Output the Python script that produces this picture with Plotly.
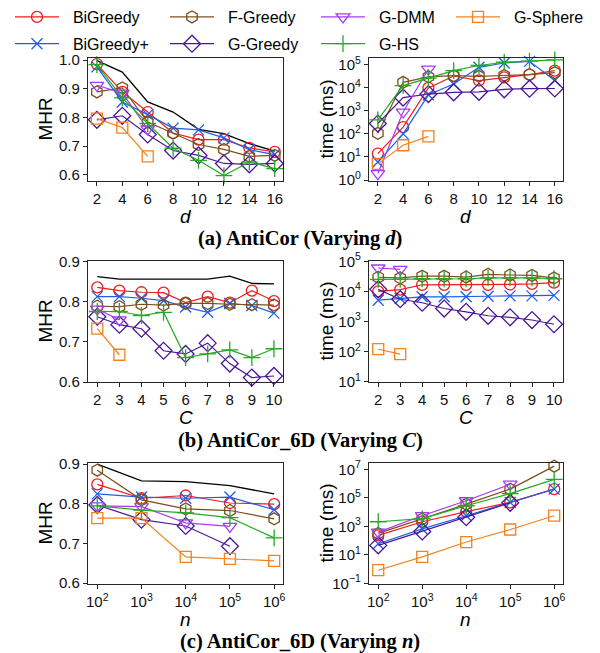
import plotly.graph_objects as go

# ---------------- data ----------------
d_vals = [2, 4, 6, 8, 10, 12, 14, 16]
d_short = [2, 4, 6]
C_vals = [2, 3, 4, 5, 6, 7, 8, 9, 10]
C_short = [2, 3]
n_vals = [1e2, 1e3, 1e4, 1e5, 1e6]
n_four = [1e2, 1e3, 1e4, 1e5]

# (a) AntiCor, MHR vs d
mhr_d_upper = [0.998, 0.958, 0.854, 0.819, 0.759, 0.744, 0.709, 0.683]
mhr_d_bigreedy = [0.986, 0.889, 0.819, 0.746, 0.723, 0.723, 0.694, 0.680]
mhr_d_bigreedyp = [0.976, 0.854, 0.810, 0.763, 0.757, 0.729, 0.688, 0.671]
mhr_d_fgreedy = [0.889, 0.903, 0.784, 0.746, 0.706, 0.689, 0.665, 0.668]
mhr_d_ggreedy = [0.792, 0.806, 0.741, 0.685, 0.668, 0.640, 0.637, 0.640]
mhr_d_gdmm = [0.912, 0.885, 0.760]
mhr_d_ghs = [0.984, 0.868, 0.779, 0.693, 0.651, 0.598, 0.645, 0.622]
mhr_d_gsphere = [0.796, 0.765, 0.665]

# (a) AntiCor, time (ms) vs d
time_d_bigreedy = [14, 195, 9800, 32000, 20400, 28000, 37000, 55000]
time_d_bigreedyp = [6, 100, 4900, 14500, 76000, 117000, 138000, 20400]
time_d_fgreedy = [105, 17000, 29500, 33000, 31000, 34000, 37000, 45000]
time_d_ggreedy = [280, 3700, 5300, 6300, 6600, 8500, 9000, 9200]
time_d_gdmm = [1.9, 880, 64000]
time_d_ghs = [400, 12300, 26000, 55000, 91000, 126000, 140000, 160000]
time_d_gsphere = [5, 32, 78]

# (b) AntiCor_6D, MHR vs C
mhr_C_upper = [0.863, 0.857, 0.857, 0.857, 0.857, 0.857, 0.864, 0.846, 0.845]
mhr_C_bigreedy = [0.836, 0.828, 0.824, 0.823, 0.798, 0.813, 0.798, 0.828, 0.802]
mhr_C_bigreedyp = [0.813, 0.813, 0.809, 0.803, 0.787, 0.774, 0.796, 0.791, 0.772]
mhr_C_fgreedy = [0.789, 0.788, 0.794, 0.792, 0.796, 0.796, 0.794, 0.793, 0.792]
mhr_C_ggreedy = [0.763, 0.743, 0.733, 0.678, 0.670, 0.697, 0.646, 0.611, 0.615]
mhr_C_gdmm = [0.782, 0.755]
mhr_C_ghs = [0.776, 0.776, 0.766, 0.774, 0.661, 0.670, 0.680, 0.661, 0.683]
mhr_C_gsphere = [0.733, 0.668]

# (b) AntiCor_6D, time (ms) vs C
time_C_bigreedy = [10000, 11500, 16600, 16600, 16600, 16600, 17000, 17800, 19500]
time_C_bigreedyp = [5100, 5800, 6600, 6600, 6600, 6900, 7100, 7100, 7400]
time_C_fgreedy = [29500, 28000, 32000, 32000, 30000, 37000, 35000, 34000, 28000]
time_C_ggreedy = [11700, 5500, 4200, 2700, 2100, 1550, 1380, 1120, 810]
time_C_gdmm = [60000, 54000]
time_C_ghs = [25000, 25000, 26300, 26300, 26300, 28000, 28000, 28000, 26300]
time_C_gsphere = [120, 83]

# (c) AntiCor_6D, MHR vs n
mhr_n_upper = [0.900, 0.858, 0.856, 0.846, 0.825]
mhr_n_bigreedy = [0.849, 0.814, 0.821, 0.802, 0.799]
mhr_n_bigreedyp = [0.825, 0.817, 0.814, 0.817, 0.785]
mhr_n_fgreedy = [0.885, 0.810, 0.787, 0.783, 0.762]
mhr_n_ggreedy = [0.797, 0.760, 0.744, 0.693]
mhr_n_gdmm = [0.795, 0.793, 0.752, 0.743]
mhr_n_ghs = [0.795, 0.784, 0.777, 0.765, 0.714]
mhr_n_gsphere = [0.764, 0.764, 0.666, 0.661, 0.656]

# (c) AntiCor_6D, time (ms) vs n
time_n_bigreedy = [230, 2100, 10700, 48000, 410000]
time_n_bigreedyp = [60, 660, 5600, 48000, 410000]
time_n_fgreedy = [320, 3300, 36000, 410000, 17000000]
time_n_ggreedy = [46, 440, 4400, 45000]
time_n_gdmm = [390, 5600, 63000, 910000]
time_n_ghs = [2100, 3500, 28000, 200000, 2000000]
time_n_gsphere = [0.83, 7.1, 79, 600, 5600]

# tick labels
mhr_ticks_a = [0.6, 0.7, 0.8, 0.9, 1.0]
mhr_ticks_bc = [0.6, 0.7, 0.8, 0.9]
time_ticks_a = [1, 10, 100, 1e3, 1e4, 1e5]
time_ticklabels_a = ["10<sup>0</sup>", "10<sup>1</sup>", "10<sup>2</sup>", "10<sup>3</sup>",
                     "10<sup>4</sup>", "10<sup>5</sup>"]
time_ticks_b = [10, 100, 1e3, 1e4, 1e5]
time_ticklabels_b = ["10<sup>1</sup>", "10<sup>2</sup>", "10<sup>3</sup>", "10<sup>4</sup>",
                     "10<sup>5</sup>"]
time_ticks_c = [0.1, 10, 1e3, 1e5, 1e7]
time_ticklabels_c = ["10<sup>\u22121</sup>", "10<sup>1</sup>", "10<sup>3</sup>",
                     "10<sup>5</sup>", "10<sup>7</sup>"]
n_ticklabels = ["10<sup>2</sup>", "10<sup>3</sup>", "10<sup>4</sup>", "10<sup>5</sup>",
                "10<sup>6</sup>"]

# ---------------- styles ----------------
W, H = 600, 653
FONT = "Liberation Sans, Arial, sans-serif"
SERIF = "Liberation Serif, Times New Roman, serif"
AX = "#262626"

style = {
    "BiGreedy": dict(color="#ee1c1c", symbol="circle-open", size=11, legend="legend"),
    "BiGreedy+": dict(color="#1f5fe6", symbol="x-thin-open", size=11, legend="legend"),
    "F-Greedy": dict(color="#7b4f1f", symbol="hexagon-open", size=12, legend="legend2"),
    "G-Greedy": dict(color="#4b1797", symbol="diamond-open", size=13, legend="legend2"),
    "G-DMM": dict(color="#a43df2", symbol="triangle-down-open", size=12, legend="legend3"),
    "G-HS": dict(color="#22aa22", symbol="cross-thin-open", size=12, legend="legend3"),
    "G-Sphere": dict(color="#f5801e", symbol="square-open", size=11, legend="legend4"),
}

panels = [
    dict(ax="1", x=(88, 283), y=(58, 181), xr=[1.3, 16.65], xtype="linear",
         yr=[0.579, 1.007], ytype="linear"),
    dict(ax="2", x=(369, 563), y=(58, 181), xr=[1.3, 16.65], xtype="linear",
         yr=[-0.043, 5.285], ytype="log"),
    dict(ax="3", x=(88, 283), y=(261, 382), xr=[1.58, 10.41], xtype="linear",
         yr=[0.6, 0.902], ytype="linear"),
    dict(ax="4", x=(369, 563), y=(261, 382), xr=[1.58, 10.41], xtype="linear",
         yr=[0.99, 5.01], ytype="log"),
    dict(ax="5", x=(88, 283), y=(463, 584), xr=[1.79, 6.2], xtype="log",
         yr=[0.5975, 0.903], ytype="linear"),
    dict(ax="6", x=(369, 563), y=(463, 584), xr=[1.79, 6.2], xtype="log",
         yr=[-1.05, 7.45], ytype="log"),
]

panel_data = {
    "1": dict(upper=(d_vals, mhr_d_upper), series={
        "BiGreedy": (d_vals, mhr_d_bigreedy), "BiGreedy+": (d_vals, mhr_d_bigreedyp),
        "F-Greedy": (d_vals, mhr_d_fgreedy), "G-Greedy": (d_vals, mhr_d_ggreedy),
        "G-DMM": (d_short, mhr_d_gdmm), "G-HS": (d_vals, mhr_d_ghs),
        "G-Sphere": (d_short, mhr_d_gsphere)}),
    "2": dict(upper=None, series={
        "BiGreedy": (d_vals, time_d_bigreedy), "BiGreedy+": (d_vals, time_d_bigreedyp),
        "F-Greedy": (d_vals, time_d_fgreedy), "G-Greedy": (d_vals, time_d_ggreedy),
        "G-DMM": (d_short, time_d_gdmm), "G-HS": (d_vals, time_d_ghs),
        "G-Sphere": (d_short, time_d_gsphere)}),
    "3": dict(upper=(C_vals, mhr_C_upper), series={
        "BiGreedy": (C_vals, mhr_C_bigreedy), "BiGreedy+": (C_vals, mhr_C_bigreedyp),
        "F-Greedy": (C_vals, mhr_C_fgreedy), "G-Greedy": (C_vals, mhr_C_ggreedy),
        "G-DMM": (C_short, mhr_C_gdmm), "G-HS": (C_vals, mhr_C_ghs),
        "G-Sphere": (C_short, mhr_C_gsphere)}),
    "4": dict(upper=None, series={
        "BiGreedy": (C_vals, time_C_bigreedy), "BiGreedy+": (C_vals, time_C_bigreedyp),
        "F-Greedy": (C_vals, time_C_fgreedy), "G-Greedy": (C_vals, time_C_ggreedy),
        "G-DMM": (C_short, time_C_gdmm), "G-HS": (C_vals, time_C_ghs),
        "G-Sphere": (C_short, time_C_gsphere)}),
    "5": dict(upper=(n_vals, mhr_n_upper), series={
        "BiGreedy": (n_vals, mhr_n_bigreedy), "BiGreedy+": (n_vals, mhr_n_bigreedyp),
        "F-Greedy": (n_vals, mhr_n_fgreedy), "G-Greedy": (n_four, mhr_n_ggreedy),
        "G-DMM": (n_four, mhr_n_gdmm), "G-HS": (n_vals, mhr_n_ghs),
        "G-Sphere": (n_vals, mhr_n_gsphere)}),
    "6": dict(upper=None, series={
        "BiGreedy": (n_vals, time_n_bigreedy), "BiGreedy+": (n_vals, time_n_bigreedyp),
        "F-Greedy": (n_vals, time_n_fgreedy), "G-Greedy": (n_four, time_n_ggreedy),
        "G-DMM": (n_four, time_n_gdmm), "G-HS": (n_vals, time_n_ghs),
        "G-Sphere": (n_vals, time_n_gsphere)}),
}

fig = go.Figure()

for p in panels:
    k = p["ax"]
    xa = "x" if k == "1" else "x" + k
    ya = "y" if k == "1" else "y" + k
    pdata = panel_data[k]
    if pdata["upper"] is not None:
        ux, uy = pdata["upper"]
        fig.add_trace(go.Scatter(x=ux, y=uy, mode="lines",
                                 line=dict(color="black", width=1.3),
                                 showlegend=False, xaxis=xa, yaxis=ya, hoverinfo="skip"))
    for name, (xs, ys) in pdata["series"].items():
        s = style[name]
        fig.add_trace(go.Scatter(
            x=xs, y=ys, mode="lines+markers", name="\u00a0\u00a0" + name,
            line=dict(color=s["color"], width=1.2),
            marker=dict(symbol=s["symbol"], size=s["size"], color=s["color"],
                        line=dict(color=s["color"], width=1.3)),
            legend=s["legend"], legendgroup=name, showlegend=(k == "1"),
            xaxis=xa, yaxis=ya, cliponaxis=False))

axis_common = dict(showline=True, mirror=True, linecolor=AX, linewidth=1.2,
                   ticks="outside", ticklen=4, tickwidth=1.2, tickcolor=AX,
                   showgrid=False, zeroline=False, automargin=False,
                   tickfont=dict(family=FONT, size=15, color="#111"))

layout_axes = {}
for p in panels:
    k = p["ax"]
    xname = "xaxis" if k == "1" else "xaxis" + k
    yname = "yaxis" if k == "1" else "yaxis" + k
    xa = dict(axis_common, domain=[p["x"][0] / W, p["x"][1] / W], range=p["xr"],
              type=p["xtype"], anchor="y" if k == "1" else "y" + k)
    ya = dict(axis_common, domain=[1 - p["y"][1] / H, 1 - p["y"][0] / H], range=p["yr"],
              type=p["ytype"], anchor="x" if k == "1" else "x" + k)
    if k in ("1", "2"):
        xa.update(tickmode="array", tickvals=d_vals)
    elif k in ("3", "4"):
        xa.update(tickmode="array", tickvals=C_vals)
    else:
        xa.update(tickmode="array", tickvals=n_vals, ticktext=n_ticklabels)
    if k == "1":
        ya.update(tickmode="array", tickvals=mhr_ticks_a, tickformat=".1f")
    elif k in ("3", "5"):
        ya.update(tickmode="array", tickvals=mhr_ticks_bc, tickformat=".1f")
    elif k == "2":
        ya.update(tickmode="array", tickvals=time_ticks_a, ticktext=time_ticklabels_a)
    elif k == "4":
        ya.update(tickmode="array", tickvals=time_ticks_b, ticktext=time_ticklabels_b)
    else:
        ya.update(tickmode="array", tickvals=time_ticks_c, ticktext=time_ticklabels_c)
    layout_axes[xname] = xa
    layout_axes[yname] = ya

annotations = []
def ann(text, x, y, size, family=FONT, angle=0):
    annotations.append(dict(text=text, x=x / W, y=1 - y / H, xref="paper", yref="paper",
                            showarrow=False, textangle=angle, xanchor="center",
                            yanchor="middle", borderpad=0,
                            font=dict(family=family, size=size, color="black")))

xt = {"1": "<i>d</i>", "2": "<i>d</i>", "3": "<i>C</i>", "4": "<i>C</i>",
      "5": "<i>n</i>", "6": "<i>n</i>"}
yt = {"1": "MHR", "3": "MHR", "5": "MHR", "2": "time (ms)", "4": "time (ms)",
      "6": "time (ms)"}
for p in panels:
    k = p["ax"]
    cx = (p["x"][0] + p["x"][1]) / 2
    cy = (p["y"][0] + p["y"][1]) / 2
    ann(xt[k], cx, p["y"][1] + 35, 19)
    ann(yt[k], p["x"][0] - 43, cy, 19, angle=-90)

ann("<b>(a) AntiCor (Varying <i>d</i>)</b>", 300, 238.5, 20.5, family=SERIF)
ann("<b>(b) AntiCor_6D (Varying <i>C</i>)</b>", 300, 440, 20.5, family=SERIF)
ann("<b>(c) AntiCor_6D (Varying <i>n</i>)</b>", 300, 641.5, 20.5, family=SERIF)

legend_common = dict(orientation="v", yanchor="top", y=1.0, xanchor="left",
                     bgcolor="rgba(0,0,0,0)", borderwidth=0, itemwidth=44,
                     tracegroupgap=3, font=dict(family=FONT, size=16, color="black"))

fig.update_layout(
    width=W, height=H, margin=dict(l=0, r=0, t=0, b=0, autoexpand=False),
    paper_bgcolor="white", plot_bgcolor="white",
    annotations=annotations,
    legend=dict(legend_common, x=10 / W),
    legend2=dict(legend_common, x=165 / W),
    legend3=dict(legend_common, x=316 / W),
    legend4=dict(legend_common, x=451 / W),
    **layout_axes,
)

fig.write_html("out.html", config={"displayModeBar": False},
               post_script="document.body.style.margin='0';")
